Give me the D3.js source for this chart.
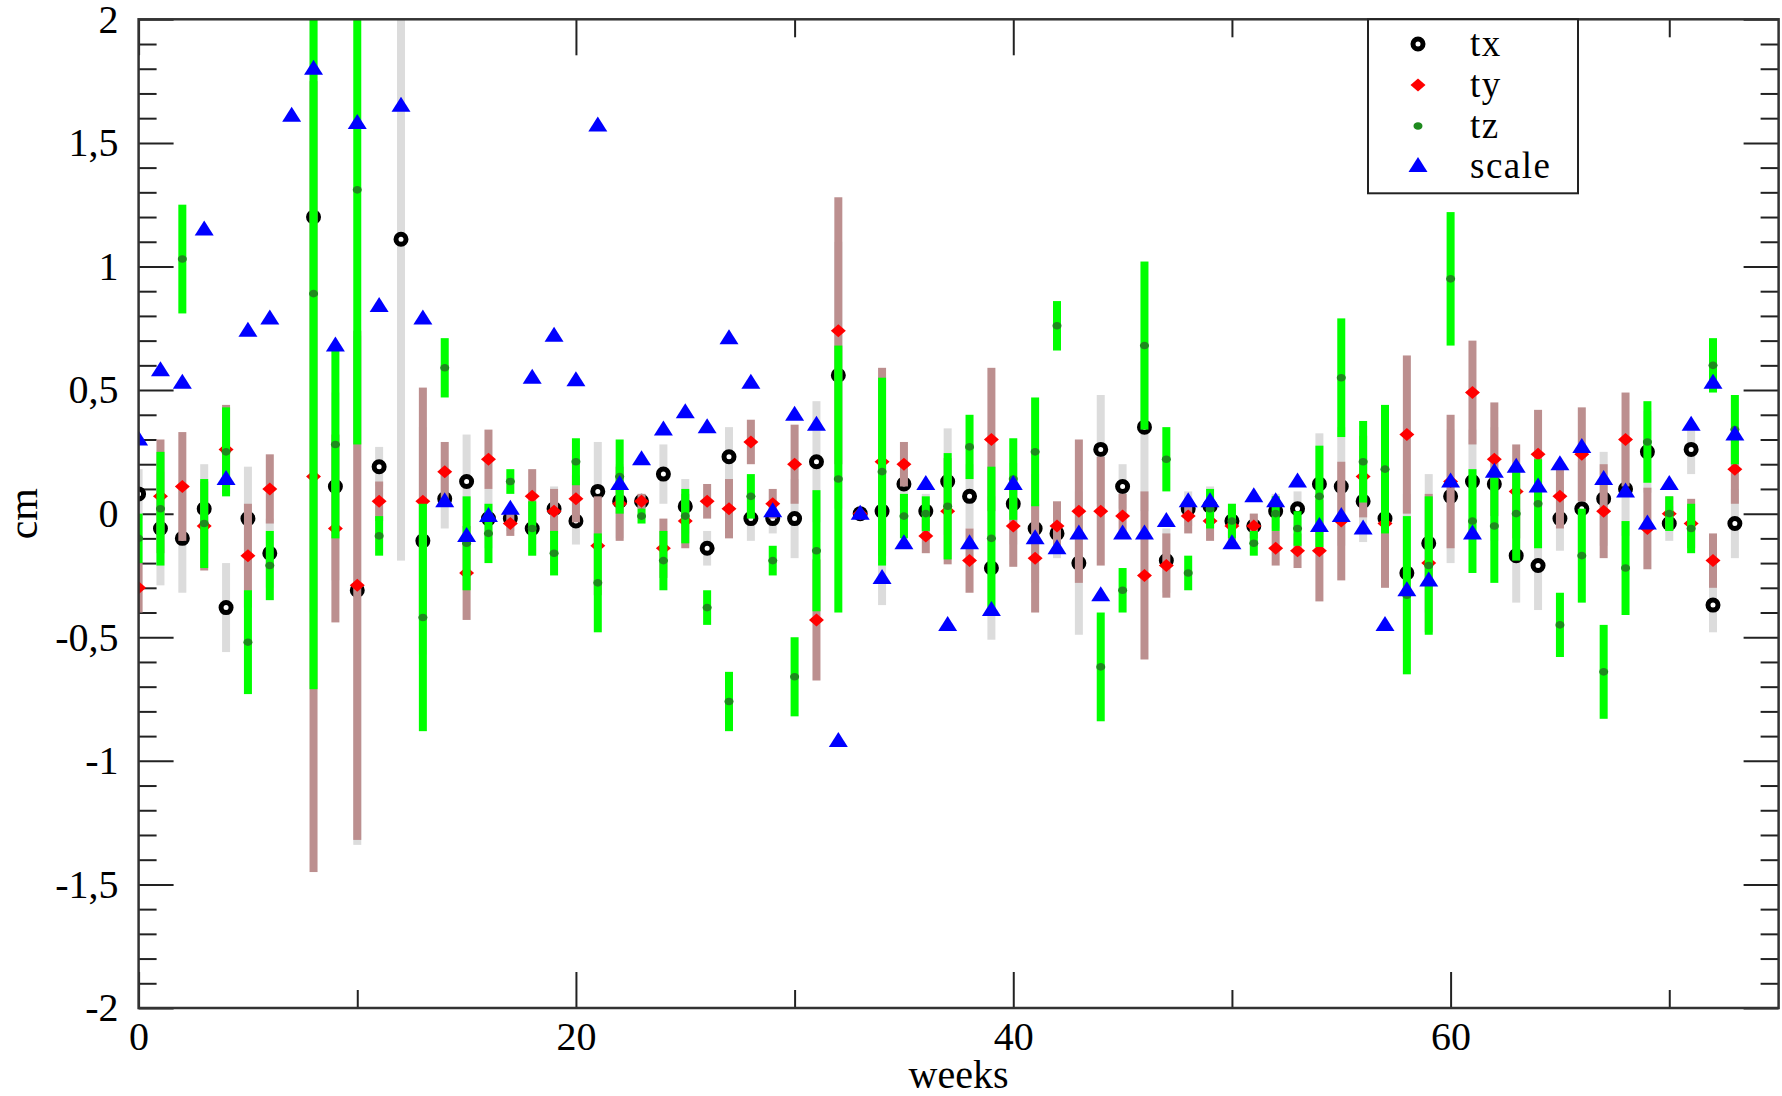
<!DOCTYPE html>
<html><head><meta charset="utf-8">
<script src="https://cdn.jsdelivr.net/npm/d3@7"></script>
<style>html,body{margin:0;padding:0;background:#fff;} svg{display:block;}</style>
</head><body>
<script>
// ---- data (cm), one entry per week 0..73; null = no value ----
const tx = [0.08,-0.06,-0.10,0.02,-0.38,-0.02,-0.16,null,1.20,0.11,
  -0.31,0.19,1.11,-0.11,0.06,0.13,-0.02,-0.02,-0.06,0.02,
  -0.03,0.09,0.05,0.05,0.16,0.03,-0.14,0.23,-0.02,-0.02,
  -0.02,0.21,0.56,0.00,0.01,0.12,0.01,0.13,0.07,-0.22,
  0.04,-0.06,-0.08,-0.20,0.26,0.11,0.35,-0.19,0.02,0.03,
  -0.03,-0.05,0.01,0.02,0.12,0.11,0.05,-0.02,-0.24,-0.12,
  0.07,0.13,0.12,-0.17,-0.21,-0.02,0.02,0.06,0.10,0.25,
  -0.04,0.26,-0.37,-0.04];
const ty = [-0.30,0.07,0.11,-0.05,0.26,-0.17,0.10,null,0.15,-0.06,
  -0.29,0.05,null,0.05,0.17,-0.24,0.22,-0.04,0.07,0.01,
  0.06,-0.13,0.04,0.05,-0.14,-0.03,0.05,0.02,0.29,0.04,
  0.20,-0.43,0.74,0.00,0.21,0.20,-0.09,0.01,-0.19,0.30,
  -0.05,-0.18,-0.05,0.01,0.01,-0.01,-0.25,-0.21,-0.01,-0.03,
  -0.05,-0.05,-0.14,-0.15,-0.15,-0.03,0.15,-0.04,0.32,-0.20,
  0.13,0.49,0.22,0.09,0.24,0.07,0.24,0.01,0.30,-0.06,
  0.00,-0.04,-0.19,0.18];
const tz = [-0.10,0.02,1.03,-0.04,0.25,-0.52,-0.21,null,0.89,0.28,
  1.31,-0.09,null,-0.42,0.59,-0.12,-0.08,0.13,-0.06,-0.16,
  0.21,-0.28,0.15,-0.01,-0.19,-0.01,-0.38,-0.76,0.07,-0.19,
  -0.66,-0.15,0.14,0.00,0.17,-0.01,0.00,0.03,0.27,-0.10,
  0.14,0.25,0.76,null,-0.62,-0.31,0.68,0.22,-0.24,0.02,
  -0.03,-0.12,0.00,-0.06,0.07,0.55,0.21,0.18,-0.33,-0.21,
  0.95,-0.03,-0.05,0.00,0.04,-0.45,-0.17,-0.64,-0.22,0.29,
  0.00,-0.06,0.60,0.34];
const scaleVals = [0.30,0.58,0.53,1.15,0.14,0.74,0.79,1.61,1.80,0.68,
  1.58,0.84,1.65,0.79,0.05,-0.09,-0.01,0.02,0.55,0.72,
  0.54,1.57,0.12,0.22,0.34,0.41,0.35,0.71,0.53,0.01,
  0.40,0.36,-0.92,0.00,-0.26,-0.12,0.12,-0.45,-0.12,-0.39,
  0.12,-0.10,-0.14,-0.08,-0.33,-0.08,-0.08,-0.03,0.05,0.05,
  -0.12,0.07,0.05,0.13,-0.05,-0.01,-0.06,-0.45,-0.31,-0.27,
  0.13,-0.08,0.17,0.19,0.11,0.20,0.27,0.14,0.09,-0.04,
  0.12,0.36,0.53,0.32];
// error (±, cm) shared by tx, ty, tz in each week
const sigma = [0.10,0.23,0.22,0.18,0.18,0.21,0.14,0,1.60,0.38,
  1.03,0.08,1.30,0.46,0.12,0.19,0.12,0.05,0.11,0.09,
  0.095,0.20,0.15,0.03,0.12,0.11,0.07,0.12,0.09,0.06,
  0.16,0.245,0.54,0.0,0.38,0.09,0.07,0.215,0.13,0.29,
  0.165,0.22,0.10,0.29,0.22,0.09,0.34,0.13,0.07,0.08,
  0.07,0.05,0.07,0.07,0.205,0.24,0.165,0.26,0.32,0.28,
  0.27,0.21,0.23,0.19,0.18,0.13,0.19,0.19,0.19,0.165,
  0.07,0.10,0.11,0.14];
const xMajorTicks = [0,20,40,60];
const xMinorTicks = [10,30,50,70];
const yMajorTicks = [-2,-1.5,-1,-0.5,0,0.5,1,1.5,2];
const legendNames = ["tx","ty","tz","scale"];

// ---- layout ----
const W = 1782, H = 1096;
const m = {l:138.6, r:1778.6, t:19.3, b:1008};
const font = "'Liberation Serif','Times New Roman',serif";
const svg = d3.select("body").append("svg").attr("width",W).attr("height",H);
const x = d3.scaleLinear().domain([0,75]).range([m.l,m.r]);
const y = d3.scaleLinear().domain([-2,2]).range([m.b,m.t]);
const weeks = d3.range(tx.length);
const yMinorTicks = d3.range(-19,20).map(i=>i/10).filter(v=>Math.abs(v*2-Math.round(v*2))>1e-6);
const fmt = d => String(d).replace(".", ",");

// axes
function styleAxis(g){
  g.select(".domain").remove();
  g.selectAll(".tick line").attr("stroke","#222").attr("stroke-width",2);
  g.selectAll("text").attr("font-family",font).attr("font-size",40).attr("fill","#000");
}
svg.append("g").attr("transform",`translate(${m.l},0)`)
  .call(d3.axisLeft(y).tickValues(yMajorTicks).tickSize(-35).tickPadding(20).tickFormat(fmt)).call(styleAxis);
svg.append("g").attr("transform",`translate(${m.l},0)`)
  .call(d3.axisLeft(y).tickValues(yMinorTicks).tickSize(-18).tickFormat("")).call(styleAxis);
svg.append("g").attr("transform",`translate(${m.r},0)`)
  .call(d3.axisRight(y).tickValues(yMajorTicks).tickSize(-35).tickFormat("")).call(styleAxis);
svg.append("g").attr("transform",`translate(${m.r},0)`)
  .call(d3.axisRight(y).tickValues(yMinorTicks).tickSize(-18).tickFormat("")).call(styleAxis);
svg.append("g").attr("transform",`translate(0,${m.b})`)
  .call(d3.axisBottom(x).tickValues(xMajorTicks).tickSize(-36).tickPadding(14).tickFormat(d3.format("d"))).call(styleAxis);
svg.append("g").attr("transform",`translate(0,${m.b})`)
  .call(d3.axisBottom(x).tickValues(xMinorTicks).tickSize(-18).tickFormat("")).call(styleAxis);
svg.append("g").attr("transform",`translate(0,${m.t})`)
  .call(d3.axisTop(x).tickValues(xMajorTicks).tickSize(-36).tickFormat("")).call(styleAxis);
svg.append("g").attr("transform",`translate(0,${m.t})`)
  .call(d3.axisTop(x).tickValues(xMinorTicks).tickSize(-18).tickFormat("")).call(styleAxis);

// clip
svg.append("defs").append("clipPath").attr("id","plot")
  .append("rect").attr("x",m.l).attr("y",m.t).attr("width",m.r-m.l).attr("height",m.b-m.t);
const plot = svg.append("g").attr("clip-path","url(#plot)");

const diamond = "M0,-6.5L7.5,0L0,6.5L-7.5,0Z";
const triangle = "M0,-9L9.5,6L-9.5,6Z";
const BW = 8;

function bars(vals, color){
  plot.append("g").selectAll("rect").data(weeks.filter(i=>vals[i]!=null && sigma[i]>0)).join("rect")
    .attr("x",i=>x(i)-BW/2).attr("width",BW)
    .attr("y",i=>y(vals[i]+sigma[i])).attr("height",i=>y(vals[i]-sigma[i])-y(vals[i]+sigma[i]))
    .attr("fill",color);
}
function pts(vals){ return weeks.filter(i=>vals[i]!=null); }

// tx set
bars(tx,"#dcdcdc");
plot.append("g").selectAll("circle").data(pts(tx)).join("circle")
  .attr("cx",i=>x(i)).attr("cy",i=>y(tx[i])).attr("r",5)
  .attr("fill","#fff").attr("stroke","#000").attr("stroke-width",5);
// ty set
bars(ty,"#bc8f8f");
plot.append("g").selectAll("path").data(pts(ty)).join("path")
  .attr("d",diamond).attr("transform",i=>`translate(${x(i)},${y(ty[i])})`).attr("fill","#ff0000");
// tz set
bars(tz,"#00ff00");
plot.append("g").selectAll("ellipse").data(pts(tz)).join("ellipse")
  .attr("cx",i=>x(i)).attr("cy",i=>y(tz[i])).attr("rx",4.5).attr("ry",3.8).attr("fill","#1e8a1e");
// scale set
plot.append("g").selectAll("path").data(pts(scaleVals)).join("path")
  .attr("d",triangle).attr("transform",i=>`translate(${x(i)},${y(scaleVals[i])})`).attr("fill","#0000ff");

// frame
svg.append("rect").attr("x",m.l).attr("y",m.t).attr("width",m.r-m.l).attr("height",m.b-m.t)
  .attr("fill","none").attr("stroke","#333").attr("stroke-width",2.5);

// axis titles
svg.append("text").attr("x",(m.l+m.r)/2).attr("y",1088).attr("text-anchor","middle")
  .attr("font-family",font).attr("font-size",40).text("weeks");
svg.append("text").attr("transform",`translate(37,${y(0)}) rotate(-90)`).attr("text-anchor","middle")
  .attr("font-family",font).attr("font-size",42).text("cm");

// legend
const lg = svg.append("g");
lg.append("rect").attr("x",1368).attr("y",m.t).attr("width",210).attr("height",174)
  .attr("fill","#fff").attr("stroke","#222").attr("stroke-width",2);
const rowY = [44,85,126,166];
const mx = 1418;
lg.append("circle").attr("cx",mx).attr("cy",rowY[0]).attr("r",5).attr("fill","#fff").attr("stroke","#000").attr("stroke-width",5);
lg.append("path").attr("d",diamond).attr("transform",`translate(${mx},${rowY[1]})`).attr("fill","#ff0000");
lg.append("ellipse").attr("cx",mx).attr("cy",rowY[2]).attr("rx",4.5).attr("ry",3.8).attr("fill","#1e8a1e");
lg.append("path").attr("d",triangle).attr("transform",`translate(${mx},${rowY[3]})`).attr("fill","#0000ff");
lg.selectAll("text.lt").data(legendNames).join("text").attr("class","lt")
  .attr("x",1470).attr("y",(d,i)=>rowY[i]+12)
  .attr("font-family",font).attr("font-size",37).attr("letter-spacing",1.5).text(d=>d);
</script>
</body></html>
